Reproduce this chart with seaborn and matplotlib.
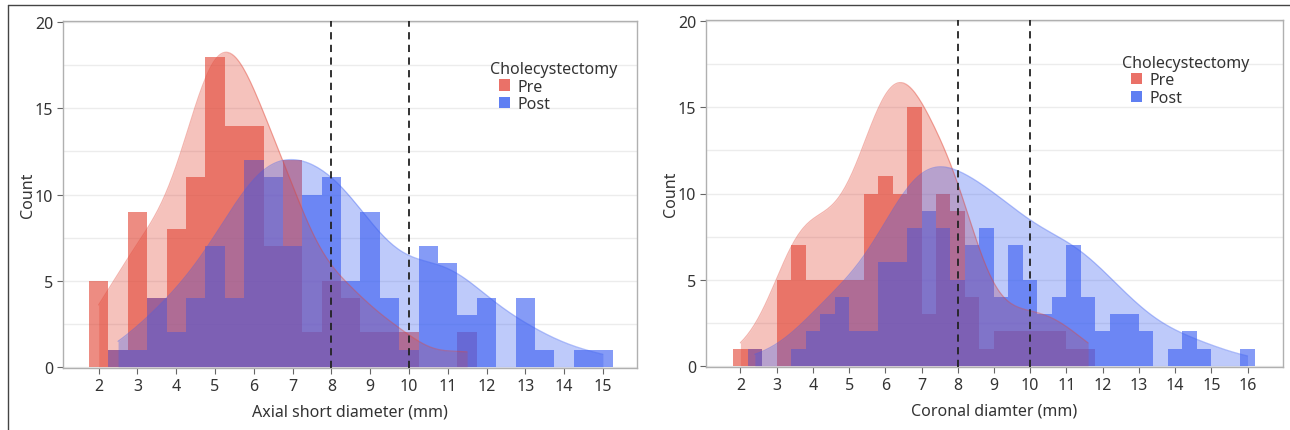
import numpy as np
import matplotlib
matplotlib.use("Agg")
import matplotlib.pyplot as plt
from matplotlib.patches import Patch
from matplotlib.lines import Line2D
import seaborn as sns

# Counts per bin, axial short diameter (0.5 mm bins, first bin centred on 2.0 mm)
axial_first_center = 2.0
axial_binwidth = 0.5
axial_pre = [5, 1, 9, 4, 8, 11, 18, 14, 14, 7, 12, 2, 5, 4, 2, 2, 2, 0, 0, 2,
             0, 0, 0, 0, 0, 0, 0]
axial_post = [0, 1, 1, 4, 2, 4, 7, 4, 12, 11, 7, 10, 11, 5, 9, 4, 1, 7, 6, 3,
              4, 0, 4, 1, 0, 1, 1]

# Counts per bin, coronal diameter (0.4 mm bins, first bin centred on 2.0 mm)
coronal_first_center = 2.0
coronal_binwidth = 0.4
coronal_pre = [1, 1, 0, 5, 7, 5, 5, 5, 5, 10, 11, 10, 15, 3, 10, 9, 4, 1, 2, 2,
               2, 2, 2, 1, 1, 0, 0, 0, 0, 0, 0, 0, 0, 0, 0, 0]
coronal_post = [0, 1, 0, 0, 1, 2, 3, 4, 2, 2, 6, 6, 8, 9, 8, 5, 7, 8, 4, 7,
                5, 3, 4, 7, 4, 2, 3, 3, 2, 0, 1, 2, 1, 0, 0, 1]

group_labels = ["Pre", "Post"]
legend_title = "Cholecystectomy"
axial_xticks = list(range(2, 16))
coronal_xticks = list(range(2, 17))
y_ticks = [0, 5, 10, 15, 20]
cutoffs = [8, 10]

PRE_COLOR = "#E24636"
POST_COLOR = "#3A5EF2"
PRE_SWATCH = "#EA7168"
POST_SWATCH = "#5F7FF2"
BAR_ALPHA = 0.62
KDE_ALPHA = 0.33
KDE_BW_ADJUST = 0.9
KDE_REF_WIDTH = 0.66  # width used to put the density curves on the count scale
TEXT_COLOR = "#333333"
FONT_SIZE = 11.5


def expand(counts, first_center, binwidth):
    centers = np.round(first_center + binwidth * np.arange(len(counts)), 2)
    return np.repeat(centers, counts)


sns.set_theme(style="white")
plt.rcParams["font.family"] = ["Noto Sans", "DejaVu Sans"]

fig = plt.figure(figsize=(12.9, 4.31), dpi=100)
ax_axial = fig.add_axes([63 / 1290, 62 / 431, 574 / 1290, 347 / 431])
ax_coronal = fig.add_axes([706 / 1290, 63 / 431, 577 / 1290, 347 / 431])


def draw_panel(ax, pre_counts, post_counts, first_center, binwidth,
               xlabel, xticks, xlim, legend_anchor):
    start = first_center - binwidth / 2
    stop = start + binwidth * len(pre_counts)
    groups = [
        (expand(pre_counts, first_center, binwidth), PRE_COLOR),
        (expand(post_counts, first_center, binwidth), POST_COLOR),
    ]
    for values, color in groups:
        sns.histplot(x=values, binwidth=binwidth, binrange=(start, stop),
                     stat="count", color=color, alpha=BAR_ALPHA,
                     edgecolor="none", linewidth=0, ax=ax)
    for values, color in groups:
        sns.kdeplot(x=values, cut=0, bw_adjust=KDE_BW_ADJUST, color=color,
                    linewidth=0.9, alpha=0.4, ax=ax)
        line = ax.lines[-1]
        xs, dens = line.get_data()
        curve = dens * len(values) * KDE_REF_WIDTH
        line.set_ydata(curve)
        ax.fill_between(xs, 0, curve, color=color, alpha=KDE_ALPHA,
                        linewidth=0)

    for c in cutoffs:
        ax.axvline(c, color="#222222", lw=1.3, ls=(0, (4, 3)), zorder=5)

    ax.set_xlim(*xlim)
    ax.set_ylim(-0.07, 20.07)
    ax.set_xticks(xticks)
    ax.set_yticks(y_ticks)
    ax.set_yticks(np.arange(0, 20.01, 2.5), minor=True)
    ax.grid(axis="y", which="both", color="#ececec", lw=1)
    ax.grid(axis="x", visible=False)
    ax.set_axisbelow(True)
    ax.tick_params(axis="both", which="major", bottom=True, left=True,
                   length=4, width=0.8, color="#666666",
                   labelsize=FONT_SIZE, labelcolor=TEXT_COLOR, pad=3)
    ax.tick_params(axis="both", which="minor", length=0)
    for spine in ax.spines.values():
        spine.set_color("#b0b0b0")
        spine.set_linewidth(1)
    ax.set_xlabel(xlabel, fontsize=FONT_SIZE, color=TEXT_COLOR, labelpad=7)
    ax.set_ylabel("Count", fontsize=FONT_SIZE, color=TEXT_COLOR, labelpad=-1)

    handles = [Patch(facecolor=PRE_SWATCH, edgecolor="none"),
               Patch(facecolor=POST_SWATCH, edgecolor="none")]
    leg = ax.legend(handles, group_labels, title=legend_title,
                    loc="upper left", bbox_to_anchor=legend_anchor,
                    frameon=False, fontsize=FONT_SIZE,
                    title_fontsize=FONT_SIZE, handlelength=0.7,
                    handleheight=0.7, handletextpad=0.45,
                    labelspacing=0.1, borderpad=0, borderaxespad=0)
    leg._legend_box.align = "left"
    # entries sit slightly indented under the title
    leg._legend_handle_box.set_offset = leg._legend_handle_box.set_offset
    for t in leg.get_texts():
        t.set_color(TEXT_COLOR)
    leg.get_title().set_color(TEXT_COLOR)
    leg.get_title().set_position((-9, 0))


draw_panel(ax_axial, axial_pre, axial_post, axial_first_center,
           axial_binwidth, "Axial short diameter (mm)", axial_xticks,
           (1.08, 15.88), (0.76, 0.885))
draw_panel(ax_coronal, coronal_pre, coronal_post, coronal_first_center,
           coronal_binwidth, "Coronal diamter (mm)", coronal_xticks,
           (1.05, 16.98), (0.736, 0.90))

# thin frame along the top and left edges of the figure
fig.add_artist(Line2D([8 / 1290, 8 / 1290], [0, 1 - 6 / 431],
                      transform=fig.transFigure, color="#444444", lw=1))
fig.add_artist(Line2D([8 / 1290, 1], [1 - 6 / 431, 1 - 6 / 431],
                      transform=fig.transFigure, color="#444444", lw=1))

fig.savefig("out.png", dpi=100, facecolor="white")
